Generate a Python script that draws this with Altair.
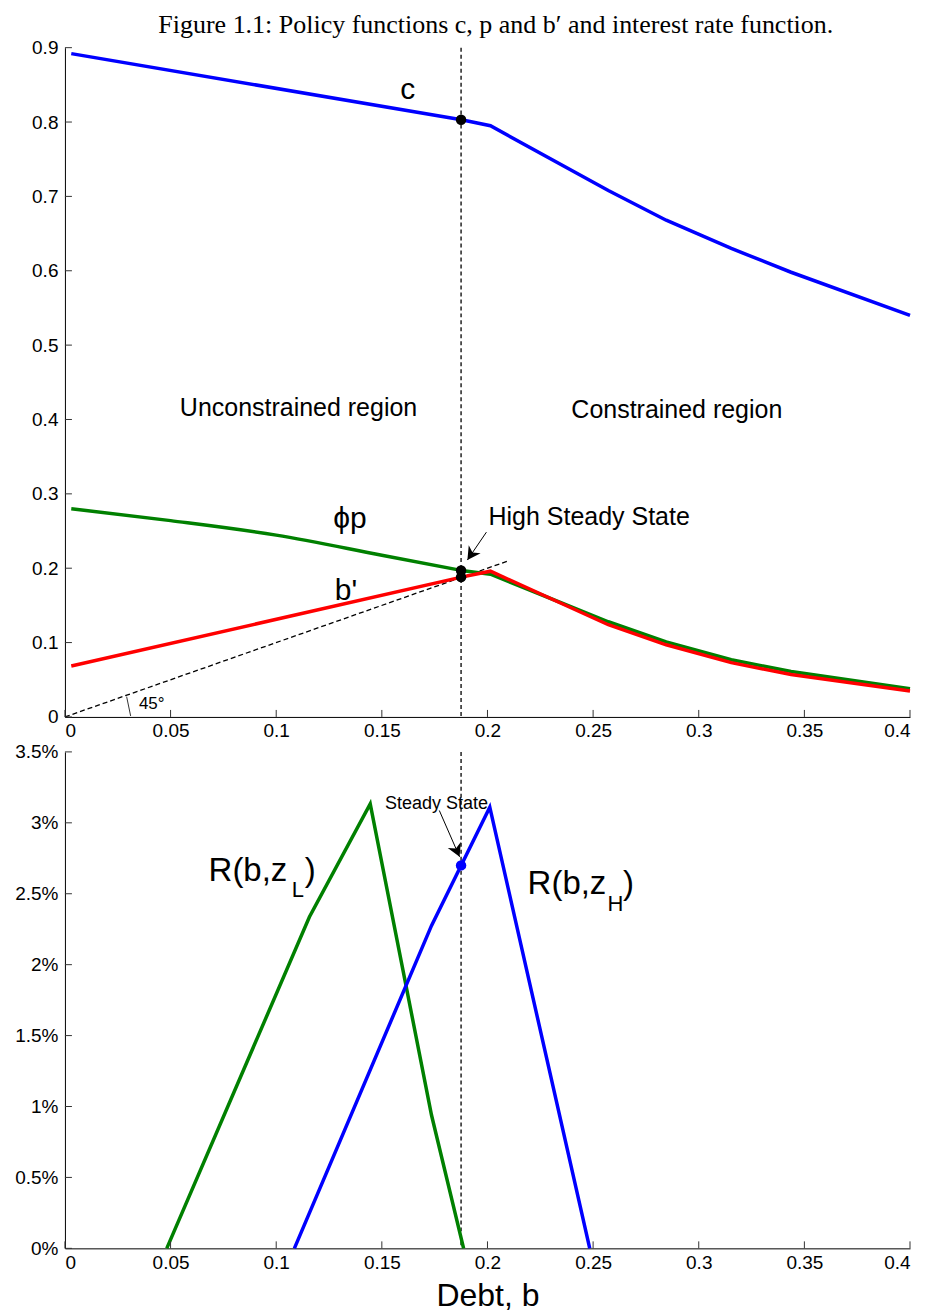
import altair as alt
import pandas as pd

# ---------------- data ----------------
# top panel: policy functions
b_c = [0.003, 0.1877, 0.2014, 0.2572, 0.2846, 0.3154, 0.3437, 0.4]
c_vals = [0.892, 0.803, 0.795, 0.708, 0.668, 0.630, 0.598, 0.540]

# phi*p : smooth part (unconstrained) and kinked part (constrained)
b_p_left = [0.003, 0.05, 0.1, 0.15, 0.1877]
phip_left = [0.280, 0.264, 0.2445, 0.2175, 0.197]
b_p_right = [0.1877, 0.2014, 0.2572, 0.2846, 0.3154, 0.3437, 0.4]
phip_right = [0.197, 0.192, 0.128, 0.101, 0.077, 0.061, 0.038]

b_bp = [0.003, 0.1877, 0.2014, 0.2572, 0.2846, 0.3154, 0.3437, 0.4]
bprime_vals = [0.0685, 0.188, 0.196, 0.124, 0.097, 0.073, 0.057, 0.035]

b_45 = [0.0, 0.21]
v_45 = [0.0, 0.21]

b_ss = 0.1875
dot_top_vals = [0.803, 0.197, 0.188]

# bottom panel: interest rate functions (percent)
b_RL = [0.0482, 0.1157, 0.1445, 0.1735, 0.1887]
RL_vals = [0.0, 2.336, 3.134, 0.94, 0.0]
b_RH = [0.1086, 0.1735, 0.2011, 0.2484]
RH_vals = [0.0, 2.275, 3.11, 0.0]
ss_R = 2.70

# ticks
x_ticks = [0, 0.05, 0.1, 0.15, 0.2, 0.25, 0.3, 0.35, 0.4]
y_ticks_top = [0, 0.1, 0.2, 0.3, 0.4, 0.5, 0.6, 0.7, 0.8, 0.9]
y_ticks_bot = [0, 0.5, 1, 1.5, 2, 2.5, 3, 3.5]

# annotations (data units)
top_labels = pd.DataFrame({
    "b": [0.1622, 0.0544, 0.2397, 0.127, 0.2005, 0.1277, 0.035],
    "v": [0.8315, 0.4044, 0.4017, 0.254, 0.258, 0.157, 0.0107],
    "text": ["c", "Unconstrained region", "Constrained region", "ϕp",
             "High Steady State", "b'", "45°"],
    "size": [30, 25, 25, 30, 25, 30, 17],
    "align": ["center", "left", "left", "left", "left", "left", "left"],
})

W = 846
H_TOP = 670
H_BOT = 497
FONT = "Liberation Sans"
SANS = dict(font=FONT, color="black", baseline="alphabetic")

xs = alt.Scale(domain=[0, 0.4], nice=False, zero=False)
ys_top = alt.Scale(domain=[0, 0.9], nice=False)
ys_bot = alt.Scale(domain=[0, 3.5], nice=False)

LABEL_EXPR = "format(datum.value, '~g')"

x_axis_top = alt.Axis(values=x_ticks, labelExpr=LABEL_EXPR, title=None)
y_axis_top = alt.Axis(values=y_ticks_top, labelExpr=LABEL_EXPR, title=None)
x_axis_bot = alt.Axis(values=x_ticks, labelExpr=LABEL_EXPR, title="Debt, b",
                      titleFontSize=32, titleFont=FONT, titleFontWeight="normal",
                      titlePadding=8, titleColor="black")
y_axis_bot = alt.Axis(values=y_ticks_bot,
                      labelExpr="format(datum.value, '~g') + '%'", title=None)


def X(axis):
    return alt.X("b:Q", scale=xs, axis=axis)


def Ytop():
    return alt.Y("v:Q", scale=ys_top, axis=y_axis_top)


def Ybot():
    return alt.Y("v:Q", scale=ys_bot, axis=y_axis_bot)


ARROW = "M0,0 L-0.55,1 L0,0.7 L0.55,1 Z"
DASH = dict(color="black", strokeWidth=1.3, strokeDash=[4, 3])

# ---------------- top panel ----------------
df_c = pd.DataFrame({"b": b_c, "v": c_vals})
df_pl = pd.DataFrame({"b": b_p_left, "v": phip_left})
df_pr = pd.DataFrame({"b": b_p_right, "v": phip_right})
df_bp = pd.DataFrame({"b": b_bp, "v": bprime_vals})
df_45 = pd.DataFrame({"b": b_45, "v": v_45})
df_ss = pd.DataFrame({"b": [b_ss]})
df_dots = pd.DataFrame({"b": [b_ss] * 3, "v": dot_top_vals})
df_xt = pd.DataFrame({"b": x_ticks})
df_yt_top = pd.DataFrame({"v": y_ticks_top})

top_layers = [
    alt.Chart(df_ss).mark_rule(**DASH).encode(x=X(x_axis_top)),
    alt.Chart(df_45).mark_line(color="black", strokeWidth=1.3, strokeDash=[5, 3])
    .encode(x=X(x_axis_top), y=Ytop()),
    alt.Chart(pd.DataFrame({"b": [0.0292], "b2": [0.0311], "v": [0.0273], "v2": [0.0013]}))
    .mark_rule(color="black", strokeWidth=0.8)
    .encode(x=X(x_axis_top), x2="b2:Q", y=Ytop(), y2="v2:Q"),
    alt.Chart(df_c).mark_line(color="#0000ff", strokeWidth=3.5)
    .encode(x=X(x_axis_top), y=Ytop()),
    alt.Chart(df_pl).mark_line(color="#008000", strokeWidth=3.5, interpolate="monotone")
    .encode(x=X(x_axis_top), y=Ytop()),
    alt.Chart(df_pr).mark_line(color="#008000", strokeWidth=3.5)
    .encode(x=X(x_axis_top), y=Ytop()),
    alt.Chart(df_bp).mark_line(color="#ff0000", strokeWidth=3.5)
    .encode(x=X(x_axis_top), y=Ytop()),
    alt.Chart(df_dots).mark_point(filled=True, color="black", size=110, opacity=1)
    .encode(x=X(x_axis_top), y=Ytop()),
    # arrow to the high steady state
    alt.Chart(pd.DataFrame({"b": [0.1995], "b2": [0.1905], "v": [0.2485], "v2": [0.211]}))
    .mark_rule(color="black", strokeWidth=1)
    .encode(x=X(x_axis_top), x2="b2:Q", y=Ytop(), y2="v2:Q"),
    alt.Chart(pd.DataFrame({"b": [0.1905], "v": [0.211]}))
    .mark_point(shape=ARROW, filled=True, color="black", size=680, angle=214, opacity=1)
    .encode(x=X(x_axis_top), y=Ytop()),
    alt.Chart(df_xt).mark_rule(color="#333333", strokeWidth=1)
    .encode(x=X(x_axis_top), y=alt.value(H_TOP), y2=alt.value(H_TOP - 7)),
    alt.Chart(df_yt_top).mark_rule(color="#333333", strokeWidth=1)
    .encode(y=Ytop(), x=alt.value(0), x2=alt.value(7)),
]
for _, r in top_labels.iterrows():
    top_layers.append(
        alt.Chart(pd.DataFrame([r]))
        .mark_text(fontSize=int(r["size"]), align=r["align"], **SANS)
        .encode(x=X(x_axis_top), y=Ytop(), text="text:N")
    )

top = alt.layer(*top_layers).properties(width=W, height=H_TOP)

# ---------------- bottom panel ----------------
df_RL = pd.DataFrame({"b": b_RL, "v": RL_vals})
df_RH = pd.DataFrame({"b": b_RH, "v": RH_vals})
df_yt_bot = pd.DataFrame({"v": y_ticks_bot})

bot_text = pd.DataFrame({
    "b": [0.068, 0.1073, 0.1135, 0.219, 0.2568, 0.2642, 0.1515],
    "v": [2.59, 2.479, 2.59, 2.50, 2.38, 2.50, 3.10],
    "text": ["R(b,z", "L", ")", "R(b,z", "H", ")", "Steady State"],
    "size": [33, 22, 33, 33, 22, 33, 18],
})

bot_layers = [
    alt.Chart(df_ss).mark_rule(**DASH).encode(x=X(x_axis_bot)),
    alt.Chart(df_RL).mark_line(color="#008000", strokeWidth=3.5)
    .encode(x=X(x_axis_bot), y=Ybot()),
    alt.Chart(df_RH).mark_line(color="#0000ff", strokeWidth=3.5)
    .encode(x=X(x_axis_bot), y=Ybot()),
    alt.Chart(pd.DataFrame({"b": [b_ss], "v": [ss_R]}))
    .mark_point(filled=True, color="#0000ff", size=110, opacity=1)
    .encode(x=X(x_axis_bot), y=Ybot()),
    alt.Chart(pd.DataFrame({"b": [0.1772], "b2": [0.1868], "v": [3.087], "v2": [2.76]}))
    .mark_rule(color="black", strokeWidth=1)
    .encode(x=X(x_axis_bot), x2="b2:Q", y=Ybot(), y2="v2:Q"),
    alt.Chart(pd.DataFrame({"b": [0.1868], "v": [2.76]}))
    .mark_point(shape=ARROW, filled=True, color="black", size=680, angle=156, opacity=1)
    .encode(x=X(x_axis_bot), y=Ybot()),
    alt.Chart(df_xt).mark_rule(color="#333333", strokeWidth=1)
    .encode(x=X(x_axis_bot), y=alt.value(H_BOT), y2=alt.value(H_BOT - 7)),
    alt.Chart(df_yt_bot).mark_rule(color="#333333", strokeWidth=1)
    .encode(y=Ybot(), x=alt.value(0), x2=alt.value(7)),
]
for _, r in bot_text.iterrows():
    bot_layers.append(
        alt.Chart(pd.DataFrame([r]))
        .mark_text(fontSize=int(r["size"]), align="left", **SANS)
        .encode(x=X(x_axis_bot), y=Ybot(), text="text:N")
    )

bottom = alt.layer(*bot_layers).properties(width=W, height=H_BOT)

chart = (
    alt.vconcat(top, bottom, spacing=2)
    .properties(
        title=alt.TitleParams(
            text="Figure 1.1: Policy functions c, p and b′ and interest rate function.",
            font="Liberation Serif", fontSize=26, fontWeight="normal",
            color="black", anchor="middle", offset=1, dx=30,
        ),
        padding={"left": 6, "top": 3, "right": 5, "bottom": 0},
    )
    .configure_view(stroke=None)
    .configure_axis(
        grid=False, ticks=False, tickSize=0, domainColor="black", domainWidth=1,
        labelFont=FONT, labelFontSize=19, labelColor="black",
    )
    .configure_axisX(labelPadding=5)
    .configure_axisY(labelPadding=7)
)

chart.save("out.html", embed_options={"renderer": "svg", "actions": False})
